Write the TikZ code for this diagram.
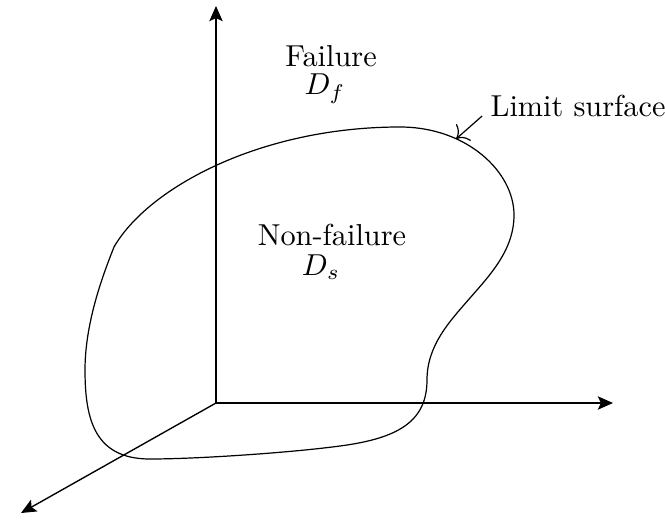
\documentclass[tikz,border=0pt]{standalone}
\usepackage{amsmath}
\usepackage{tikz}
\usetikzlibrary{arrows.meta,positioning,calc}
\tikzset{
  axis/.style={
    -{Stealth[length=5pt,width=4.4pt,inset=1pt]},
    line width=0.45pt,
    draw=black
  },
  surface/.style={
    line width=0.4pt,
    draw=black
  },
  pointer/.style={
    -{To[scale=1.4]},
    line width=0.4pt,
    draw=black
  },
  label/.style={
    anchor=base,
    inner sep=0pt,
    font=\normalsize
  }
}

\begin{document}
\begin{tikzpicture}[x=0.33pt,y=-0.33pt]
\useasboundingbox (0,0) rectangle (665,527);
% axes
\coordinate (O) at (216,403);
\coordinate (ytip) at (216,6);
\coordinate (xtip) at (613,403);
\coordinate (ztip) at (21,513);
\draw[axis] (O) -- (ytip);
\draw[axis] (O) -- (xtip);
\draw[axis] (O) -- (ztip);
% limit surface
\draw[surface] (114,247) .. controls (148,188) and (260,127) .. (400,127)
  .. controls (467,127) and (514,172) .. (514,215)
  .. controls (514,250) and (490,275) .. (470,298)
  .. controls (450,321) and (427,345) .. (427,380)
  .. controls (427,420) and (400,437) .. (347,445)
  .. controls (300,452) and (200,459) .. (150,459)
  .. controls (95,459) and (85,420) .. (85,370)
  .. controls (85,320) and (105,270) .. (114,247) -- cycle;
% labels
\node[label] (fail) at (331,67) {Failure};
\node[label] (Df) at (325,95) {$D_f$};
\node[label] (nonfail) at (332,245) {Non-failure};
\node[label] (Ds) at (321,275) {$D_s$};
\node[label, anchor=base west] (lim) at (490,116) {Limit surface};
\coordinate (hit) at (456,139);
\draw[pointer] ([xshift=-2.6pt]lim.base west) -- (hit);
\end{tikzpicture}
\end{document}
